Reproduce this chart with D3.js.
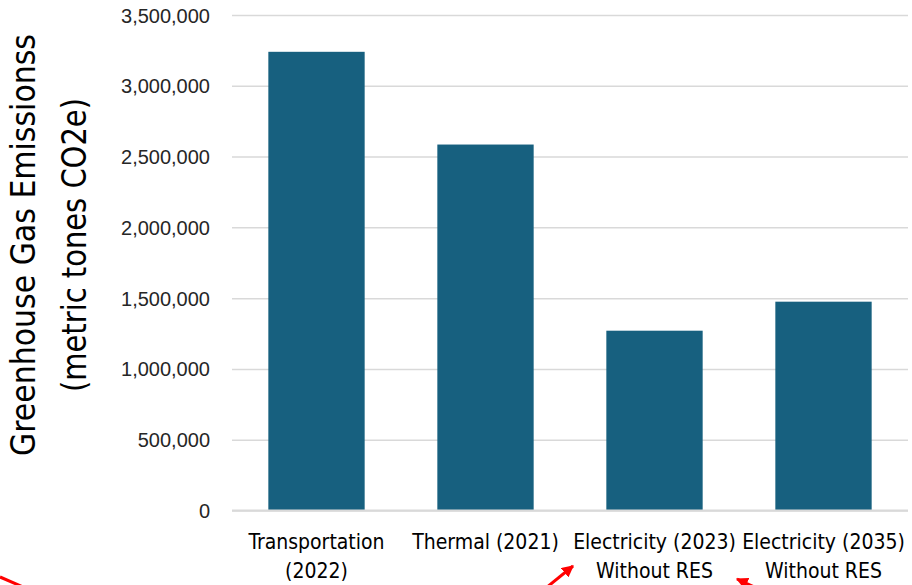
<!DOCTYPE html>
<html><head><meta charset="utf-8">
<script src="https://cdn.jsdelivr.net/npm/d3@7"></script>
<style>
html,body{margin:0;padding:0;background:#fff;}
svg{display:block;}
</style></head>
<body>
<svg id="chart" width="912" height="585"></svg>
<script>
const categories = [["Transportation","(2022)"],["Thermal (2021)"],["Electricity (2023)","Without RES"],["Electricity (2035)","Without RES"]];
const values = [3240000, 2585000, 1270000, 1475000];
const tickValues = [0,500000,1000000,1500000,2000000,2500000,3000000,3500000];
const yTitle = ["Greenhouse Gas Emissionss","(metric tones CO2e)"];

(function(){
const svg = d3.select("#chart");
const pLeft=232, pRight=908, pTop=15, pBottom=510.5;
const narrow = '"Liberation Sans Narrow","Arial Narrow","DejaVu Sans Condensed",sans-serif';

const x = d3.scaleBand().domain(categories.map((d,i)=>i)).range([pLeft,pRight]).paddingInner(0.43).paddingOuter(0.215);
const y = d3.scaleLinear().domain([0,3500000]).range([pBottom,pTop]);

const yAxis = d3.axisLeft(y).tickValues(tickValues).tickSize(-(pRight-pLeft)).tickPadding(22).tickFormat(d3.format(","));
const gy = svg.append("g").attr("transform",`translate(${pLeft},0)`).call(yAxis);
gy.select(".domain").remove();
gy.selectAll(".tick line").attr("stroke","#d9d9d9").attr("stroke-width",1.5);
gy.selectAll(".tick text").attr("fill","#262626").attr("font-family",'"Liberation Sans",Arial,sans-serif').attr("font-size",20).attr("dy","0.35em");

svg.append("g").selectAll("rect").data(values).join("rect")
  .attr("x",(d,i)=>x(i)).attr("width",x.bandwidth())
  .attr("y",d=>y(d)).attr("height",d=>y(0)-y(d))
  .attr("fill","#17607f");

svg.append("line").attr("x1",pLeft).attr("x2",pRight).attr("y1",y(0)).attr("y2",y(0)).attr("stroke","#d9d9d9").attr("stroke-width",2);

const gx = svg.append("g");
categories.forEach((lines,i)=>{
  const t = gx.append("text").attr("text-anchor","middle").attr("font-family",narrow).attr("font-size",21).attr("fill","#000");
  lines.forEach((l,j)=>{
    t.append("tspan").attr("x",x(i)+x.bandwidth()/2).attr("y",549+j*29).text(l);
  });
});

const titleLens = [422, 294];
yTitle.forEach((l,j)=>{
  svg.append("text").attr("transform","translate(0,245) rotate(-90)").attr("text-anchor","middle")
    .attr("font-family",narrow).attr("font-size",34).attr("fill","#000")
    .attr("x",0).attr("y",35+j*51)
    .attr("textLength",titleLens[j]).attr("lengthAdjust","spacingAndGlyphs")
    .text(l);
});

const defs = svg.append("defs");
defs.append("marker").attr("id","ah").attr("viewBox","0 0 10 10").attr("refX",9).attr("refY",5)
  .attr("markerWidth",4).attr("markerHeight",4).attr("orient","auto")
  .append("path").attr("d","M0,0 L10,5 L0,10 z").attr("fill","#ff0000");
const red = svg.append("g").attr("stroke","#ff0000").attr("stroke-width",3).attr("fill","none");
red.append("line").attr("x1",0).attr("y1",577).attr("x2",30).attr("y2",590);
red.append("line").attr("x1",541).attr("y1",592).attr("x2",573).attr("y2",566).attr("marker-end","url(#ah)");
red.append("line").attr("x1",765).attr("y1",592).attr("x2",737).attr("y2",579).attr("marker-end","url(#ah)");
})();
</script>
</body></html>
